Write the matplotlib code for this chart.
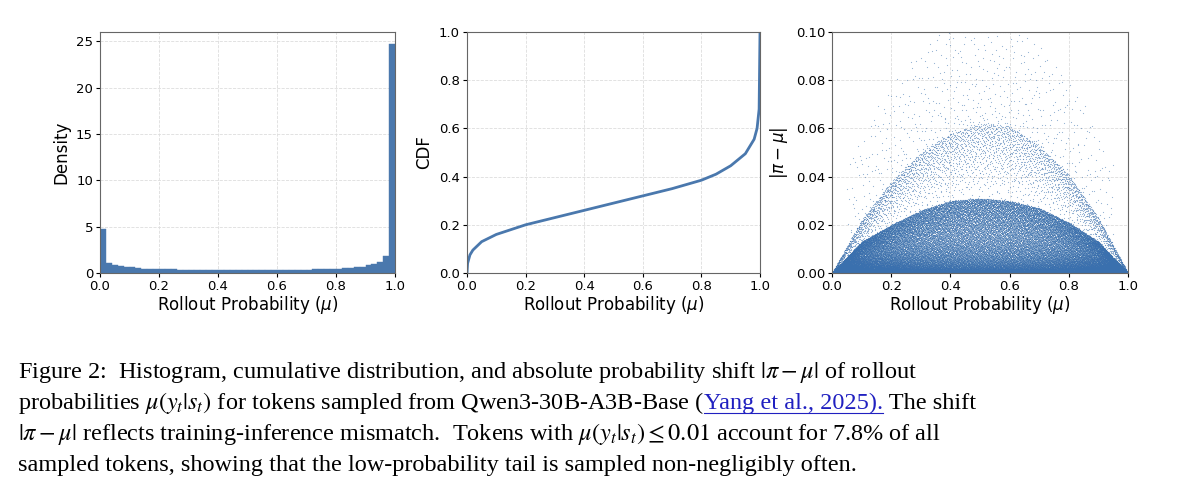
import numpy as np
import matplotlib
matplotlib.use('Agg')
import matplotlib.pyplot as plt

# histogram (50 bins of width 0.02), density values
hist_density = [4.7, 1.05, 0.85, 0.72, 0.66, 0.6, 0.52, 0.47, 0.42, 0.4,
                0.4, 0.38, 0.38, 0.36, 0.36, 0.34, 0.34, 0.33, 0.33, 0.33,
                0.32, 0.32, 0.32, 0.32, 0.32, 0.32, 0.32, 0.32, 0.32, 0.32,
                0.32, 0.33, 0.33, 0.34, 0.35, 0.36, 0.38, 0.4, 0.42, 0.45,
                0.48, 0.52, 0.56, 0.62, 0.7, 0.82, 1.0, 1.2, 1.85, 24.7]

# CDF curve
cdf_x = [0, 0.002, 0.01, 0.02, 0.05, 0.1, 0.2, 0.3, 0.4, 0.5, 0.6, 0.7, 0.8,
         0.85, 0.9, 0.95, 0.98, 0.99, 0.997, 1.0]
cdf_y = [0, 0.04, 0.075, 0.095, 0.13, 0.16, 0.2, 0.23, 0.26, 0.29, 0.32,
         0.35, 0.385, 0.41, 0.445, 0.495, 0.555, 0.6, 0.68, 1.0]

# scatter: arcs of |pi - mu| read at mu = 0, 0.1, ..., 1
arc_x = [0, 0.1, 0.2, 0.3, 0.4, 0.5, 0.6, 0.7, 0.8, 0.9, 1.0]
outer_arc = [0, 0.022, 0.038, 0.05, 0.058, 0.062, 0.061, 0.053, 0.041, 0.023, 0]
inner_arc = [0, 0.013, 0.02, 0.026, 0.03, 0.031, 0.03, 0.027, 0.021, 0.013, 0]
layer_counts = {'blob': 45000, 'inner': 5000, 'outer': 3500, 'sparse': 700}

COLOR = '#4a78ad'


def halton(n, base, offset):
    i = np.arange(offset + 1, offset + n + 1)
    out = np.zeros(n)
    f = 1.0
    while np.any(i > 0):
        f /= base
        out += f * (i % base)
        i //= base
    return out


def seq(n, offset):
    return halton(n, 2, offset), halton(n, 3, offset)


def scatter_points():
    xs, ys = [], []
    u, v = seq(layer_counts['blob'], 17)
    h = np.interp(u, arc_x, inner_arc)
    xs.append(u); ys.append(h * v ** 2.0)
    u, v = seq(layer_counts['inner'], 60000)
    h = np.interp(u, arc_x, inner_arc)
    xs.append(u); ys.append(h * (0.5 + 0.5 * v ** 0.5))
    u, v = seq(layer_counts['outer'], 120000)
    h = np.interp(u, arc_x, outer_arc)
    xs.append(u); ys.append(h * (0.35 + 0.65 * v ** 0.35))
    u, v = seq(layer_counts['sparse'], 200000)
    h = np.interp(u, arc_x, outer_arc)
    xs.append(0.05 + 0.9 * u); ys.append(np.minimum(h + 0.045 * v ** 1.5, 0.1))
    return np.concatenate(xs), np.concatenate(ys)


plt.rcParams['font.family'] = ['DejaVu Sans']
fig = plt.figure(figsize=(12, 5), dpi=100)
W, H = 1200, 500
def axes_px(l, t, r, b):
    return fig.add_axes([l / W, 1 - b / H, (r - l) / W, (b - t) / H])

ax1 = axes_px(100, 32, 395, 273)
ax2 = axes_px(467, 32, 760, 273)
ax3 = axes_px(832, 32, 1128, 273)

edges = np.linspace(0, 1, len(hist_density) + 1)
ax1.bar(edges[:-1], hist_density, width=np.diff(edges), align='edge',
        color=COLOR, edgecolor=COLOR, linewidth=0.3)
ax1.set_ylim(0, 26)
ax1.set_yticks([0, 5, 10, 15, 20, 25])
ax1.set_ylabel('Density', fontsize=12)

ax2.plot(cdf_x, cdf_y, color=COLOR, linewidth=2)
ax2.set_ylim(0, 1)
ax2.set_ylabel('CDF', fontsize=12)

sx, sy = scatter_points()
ax3.scatter(sx, sy, s=0.7, color='#3a70ae', alpha=0.55, linewidths=0)
ax3.set_ylim(0, 0.1)
ax3.set_ylabel(r'$|\pi - \mu|$', fontsize=12)

for ax in (ax1, ax2, ax3):
    ax.set_xlim(0, 1)
    ax.set_xticks([0, 0.2, 0.4, 0.6, 0.8, 1.0])
    ax.set_xlabel(r'Rollout Probability ($\mu$)', fontsize=12, labelpad=1)
    ax.tick_params(labelsize=9.5, length=3, pad=2)
    ax.grid(True, linestyle='--', color='#dddddd', linewidth=0.6)
    ax.set_axisbelow(True)
    for s in ax.spines.values():
        s.set_color('#666666')

# caption
plt.rcParams['mathtext.fontset'] = 'stix'
cap_font = dict(fontsize=17.5, family='Liberation Serif', va='baseline')
lines = [
    r'Figure 2:  Histogram, cumulative distribution, and absolute probability shift $|\pi - \mu|$ of rollout',
    None,
    r'$|\pi - \mu|$ reflects training-inference mismatch.  Tokens with $\mu(y_t|s_t) \leq 0.01$ account for 7.8% of all',
    'sampled tokens, showing that the low-probability tail is sampled non-negligibly often.',
]
ys_px = [378, 409, 440, 471]
for txt, yp in zip(lines, ys_px):
    if txt:
        fig.text(18 / W, 1 - yp / H, txt, **cap_font)

renderer = fig.canvas.get_renderer()
x0 = 18 / W
parts = [(r'probabilities $\mu(y_t|s_t)$ for tokens sampled from Qwen3-30B-A3B-Base (', 'black'),
         ('Yang et al., 2025).', '#2020c0'),
         (r' The shift', 'black')]
for txt, col in parts:
    t = fig.text(x0, 1 - ys_px[1] / H, txt, color=col, **cap_font)
    bb = t.get_window_extent(renderer)
    if col != 'black':
        fig.add_artist(plt.Line2D([bb.x0 / W, bb.x1 / W],
                                  [(bb.y0 + 1) / H, (bb.y0 + 1) / H],
                                  color=col, linewidth=0.8))
    x0 = bb.x1 / W

fig.savefig('out.png', dpi=100)
